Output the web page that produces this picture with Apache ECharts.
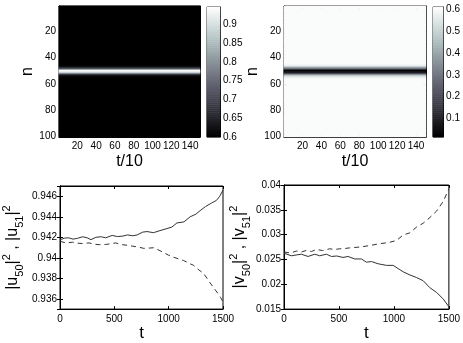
<!DOCTYPE html>
<html><head><meta charset="utf-8">
<script src="https://cdn.jsdelivr.net/npm/echarts@6/dist/echarts.min.js"></script>
<style>html,body{margin:0;padding:0;background:#fff}#c{width:463px;height:343px}</style>
</head><body><div id="c"></div>
<script>
// ---------- data ----------
const tSteps = 150;            // t/10 columns
const nSites = 100;            // lattice sites
const xTicksHeat = [20, 40, 60, 80, 100, 120, 140];
const yTicksHeat = [20, 40, 60, 80, 100];

// profile across n (constant in time) for |u|^2 and |v|^2
const bandN = [45, 46, 47, 48, 49, 50, 51, 52, 53, 54, 55, 56];
const uBand = [0.601, 0.605, 0.62, 0.68, 0.82, 0.942, 0.942, 0.82, 0.68, 0.62, 0.605, 0.601];
const uBackground = 0.6;
const vBand = [0.592, 0.57, 0.5, 0.35, 0.15, 0.026, 0.026, 0.15, 0.35, 0.5, 0.57, 0.592];
const vBackground = 0.6;
const uRange = [0.6, 0.946];
const vRange = [0.016, 0.61];
const uBarTicks = [0.6, 0.65, 0.7, 0.75, 0.8, 0.85, 0.9];
const vBarTicks = [0.1, 0.2, 0.3, 0.4, 0.5, 0.6];

// time series
const tU50 = [0, 40, 80, 120, 160, 210, 250, 285, 330, 380, 420, 480, 530, 580, 620, 670, 710, 760, 800, 860, 920, 985, 1030, 1076, 1140, 1198, 1250, 1290, 1340, 1396, 1440, 1470, 1500];
const u50 = [0.94175, 0.94192, 0.94195, 0.94182, 0.9419, 0.94205, 0.94195, 0.94177, 0.942, 0.94205, 0.94195, 0.94218, 0.94207, 0.94212, 0.94223, 0.94215, 0.94223, 0.9425, 0.94256, 0.94245, 0.94265, 0.94285, 0.943, 0.9434, 0.9435, 0.944, 0.94425, 0.9446, 0.945, 0.94535, 0.9456, 0.946, 0.9466];
const tU51 = [0, 55, 116, 160, 207, 268, 320, 360, 421, 470, 512, 573, 620, 665, 720, 771, 820, 863, 910, 954, 1000, 1046, 1090, 1137, 1190, 1229, 1280, 1320, 1381, 1420, 1457, 1480, 1500];
const u51 = [0.94161, 0.94145, 0.94152, 0.94143, 0.94139, 0.94145, 0.94132, 0.94128, 0.9413, 0.94138, 0.94145, 0.94128, 0.94122, 0.94114, 0.94105, 0.94092, 0.94095, 0.94098, 0.94075, 0.94051, 0.94025, 0.94005, 0.9399, 0.93974, 0.93945, 0.93927, 0.9388, 0.9385, 0.93756, 0.937, 0.93647, 0.9361, 0.9357];
const tV50 = [0, 67, 110, 158, 219, 280, 325, 386, 432, 480, 537, 583, 644, 705, 750, 796, 856, 932, 993, 1038, 1084, 1145, 1206, 1266, 1327, 1388, 1448, 1500];
const v50 = [0.02626, 0.02574, 0.0259, 0.02606, 0.0256, 0.02606, 0.02574, 0.02606, 0.0256, 0.0257, 0.02541, 0.0256, 0.0251, 0.0251, 0.02445, 0.02458, 0.02413, 0.02381, 0.02381, 0.02317, 0.02252, 0.02188, 0.02136, 0.02072, 0.01931, 0.01835, 0.01706, 0.01546];
const tV51 = [0, 60, 113, 160, 204, 250, 295, 350, 416, 460, 507, 550, 598, 690, 780, 871, 950, 1023, 1084, 1145, 1206, 1266, 1327, 1388, 1448, 1500];
const v51 = [0.0265, 0.0263, 0.0267, 0.0265, 0.02683, 0.0266, 0.02702, 0.0268, 0.02715, 0.027, 0.02715, 0.0272, 0.02734, 0.0275, 0.0278, 0.02818, 0.0284, 0.02882, 0.02992, 0.03036, 0.03152, 0.03229, 0.03345, 0.03474, 0.03667, 0.03923];

// ---------- build ----------
const tCats = Array.from({length: tSteps}, (_, i) => String(i + 1));
const nCats = Array.from({length: nSites}, (_, i) => String(i + 1));
function profileAt(n, band, bg) { const k = bandN.indexOf(n); return k >= 0 ? band[k] : bg; }
// the profile is constant in t, so each row n is one cell spanning the whole t range
function heatData(band, bg) {
  const d = [];
  for (let j = 0; j < nSites; j++) d.push([0, j, profileAt(j + 1, band, bg)]);
  return d;
}
const LEVELS = 64;
function barData(r) {
  const d = [];
  for (let k = 0; k < LEVELS; k++) d.push([0, k, r[0] + (r[1] - r[0]) * (k + 0.5) / LEVELS]);
  return d;
}
const levelCats = Array.from({length: LEVELS}, (_, i) => String(i));
const zip = (t, v) => t.map((x, i) => [x, v[i]]);

const cmap = ['#000000', '#1e1e23', '#3c3c46', '#5a5a6a', '#787d87', '#95a0a5', '#b3c3c3', '#d9e1e1', '#ffffff'];
const FONT = 'Liberation Sans';
const lab = {fontFamily: FONT, fontSize: 10, color: '#000'};
const tick = {show: true, inside: true, length: 3, lineStyle: {color: '#000'}};
const line = {show: true, lineStyle: {color: '#000', width: 1}};
const heatTickFn = list => (idx, val) => list.includes(Number(val));

function heatX(grid, pos, showLab) {
  return {type: 'category', gridIndex: grid, position: pos, data: tCats, boundaryGap: true,
    axisLine: line, axisTick: Object.assign({}, tick, {alignWithLabel: true, interval: heatTickFn(xTicksHeat)}),
    axisLabel: Object.assign({}, lab, {show: showLab, interval: heatTickFn(xTicksHeat), margin: 4}),
    splitLine: {show: false},
    name: showLab ? 't/10' : '', nameLocation: 'middle', nameGap: 17,
    nameTextStyle: {fontFamily: FONT, fontSize: 16, color: '#000'}};
}
function heatY(grid, pos, showLab) {
  return {type: 'category', gridIndex: grid, position: pos, inverse: true, data: nCats, boundaryGap: true,
    axisLine: line, axisTick: Object.assign({}, tick, {alignWithLabel: true, interval: heatTickFn(yTicksHeat)}),
    axisLabel: Object.assign({}, lab, {show: showLab, interval: heatTickFn(yTicksHeat), margin: 3}),
    splitLine: {show: false},
    name: showLab ? 'n' : '', nameLocation: 'middle', nameGap: 22, nameRotate: 90,
    nameTextStyle: {fontFamily: FONT, fontSize: 16, color: '#000'}};
}
function hiddenCat(grid, data) {
  return {type: 'category', gridIndex: grid, data: data, show: false, boundaryGap: true};
}
function barYVal(grid, r, ticks) {
  return {type: 'value', gridIndex: grid, position: 'right', min: r[0], max: r[1], splitNumber: 7,
    axisLine: line, axisTick: {show: false},
    axisLabel: Object.assign({}, lab, {margin: 3, showMinLabel: true, showMaxLabel: true,
      formatter: v => { const hit = ticks.find(t => Math.abs(t - v) < 1e-9); return hit !== undefined ? String(hit) : ''; }}),
    splitLine: {show: false}};
}
function lineX(grid, pos, showLab) {
  return {type: 'value', gridIndex: grid, position: pos, min: 0, max: 1500, interval: 500,
    axisLine: line, axisTick: tick,
    axisLabel: Object.assign({}, lab, {show: showLab, margin: 5, formatter: v => String(v)}),
    splitLine: {show: false},
    name: showLab ? 't' : '', nameLocation: 'middle', nameGap: 14,
    nameTextStyle: {fontFamily: FONT, fontSize: 17, color: '#000'}};
}
function lineY(grid, pos, showLab, r, ticks, name, gap) {
  return {type: 'value', gridIndex: grid, position: pos, min: r[0], max: r[1], splitNumber: 6,
    axisLine: line, axisTick: tick,
    axisLabel: Object.assign({}, lab, {show: showLab, margin: 3, showMinLabel: true, showMaxLabel: true,
      formatter: v => { const hit = ticks.find(t => Math.abs(t - v) < 1e-9); return hit !== undefined ? String(hit) : ''; }}),
    splitLine: {show: false},
    name: showLab ? name : '', nameLocation: 'middle', nameGap: gap, nameRotate: 90,
    nameTextStyle: {fontFamily: FONT, color: '#000',
      rich: {a: {fontFamily: FONT, fontSize: 16, lineHeight: 24, color: '#000'},
             s: {fontFamily: FONT, fontSize: 11, lineHeight: 11, verticalAlign: 'bottom', color: '#000'},
             p: {fontFamily: FONT, fontSize: 11, lineHeight: 11, verticalAlign: 'top', color: '#000'}}}};
}
const uTicks = [0.936, 0.938, 0.94, 0.942, 0.944, 0.946];
const vTicks = [0.015, 0.02, 0.025, 0.03, 0.035, 0.04];
const gridStyle = {show: true, borderColor: '#000', borderWidth: 1};

const option = {
  animation: false,
  backgroundColor: '#fff',
  grid: [
    Object.assign({left: 59, top: 6, width: 141, height: 131, backgroundColor: '#000'}, gridStyle),
    Object.assign({left: 207, top: 7, width: 13, height: 130}, gridStyle),
    Object.assign({left: 284, top: 6, width: 142, height: 131, backgroundColor: '#fcfdfd'}, gridStyle),
    Object.assign({left: 433, top: 7, width: 13, height: 130}, gridStyle),
    Object.assign({left: 59, top: 186, width: 164, height: 130}, gridStyle),
    Object.assign({left: 284, top: 185, width: 165, height: 131}, gridStyle)
  ],
  xAxis: [
    heatX(0, 'bottom', true), heatX(0, 'top', false), hiddenCat(0, ['all']), hiddenCat(1, ['0']),
    heatX(2, 'bottom', true), heatX(2, 'top', false), hiddenCat(2, ['all']), hiddenCat(3, ['0']),
    lineX(4, 'bottom', true), lineX(4, 'top', false),
    lineX(5, 'bottom', true), lineX(5, 'top', false)
  ],
  yAxis: [
    heatY(0, 'left', true), heatY(0, 'right', false),
    hiddenCat(1, levelCats), barYVal(1, uRange, uBarTicks),
    heatY(2, 'left', true), heatY(2, 'right', false),
    hiddenCat(3, levelCats), barYVal(3, vRange, vBarTicks),
    lineY(4, 'left', true, [0.935, 0.947], uTicks, '{a||u}{s|50}{a||}{p|2}{a| , |u}{s|51}{a||}{p|2}', 35),
    lineY(4, 'right', false, [0.935, 0.947], uTicks, '', 0),
    lineY(5, 'left', true, [0.015, 0.04], vTicks, '{a||v}{s|50}{a||}{p|2}{a| , |v}{s|51}{a||}{p|2}', 30),
    lineY(5, 'right', false, [0.015, 0.04], vTicks, '', 0)
  ],
  visualMap: [
    {type: 'continuous', show: false, min: uRange[0], max: uRange[1], seriesIndex: [0, 1], inRange: {color: cmap}},
    {type: 'continuous', show: false, min: vRange[0], max: vRange[1], seriesIndex: [2, 3], inRange: {color: cmap}}
  ],
  series: [
    {type: 'heatmap', xAxisIndex: 2, yAxisIndex: 0, data: heatData(uBand, uBackground), progressive: 0},
    {type: 'heatmap', xAxisIndex: 3, yAxisIndex: 2, data: barData(uRange), progressive: 0},
    {type: 'heatmap', xAxisIndex: 6, yAxisIndex: 4, data: heatData(vBand, vBackground), progressive: 0},
    {type: 'heatmap', xAxisIndex: 7, yAxisIndex: 6, data: barData(vRange), progressive: 0},
    {type: 'line', xAxisIndex: 8, yAxisIndex: 8, data: zip(tU50, u50), showSymbol: false,
      lineStyle: {color: '#333', width: 1}},
    {type: 'line', xAxisIndex: 8, yAxisIndex: 8, data: zip(tU51, u51), showSymbol: false,
      lineStyle: {color: '#333', width: 1, type: [5, 4]}},
    {type: 'line', xAxisIndex: 10, yAxisIndex: 10, data: zip(tV50, v50), showSymbol: false,
      lineStyle: {color: '#333', width: 1}},
    {type: 'line', xAxisIndex: 10, yAxisIndex: 10, data: zip(tV51, v51), showSymbol: false,
      lineStyle: {color: '#333', width: 1, type: [5, 4]}}
  ]
};
const chart = echarts.init(document.getElementById('c'), null, {renderer: 'canvas'});
chart.setOption(option);
</script></body></html>
